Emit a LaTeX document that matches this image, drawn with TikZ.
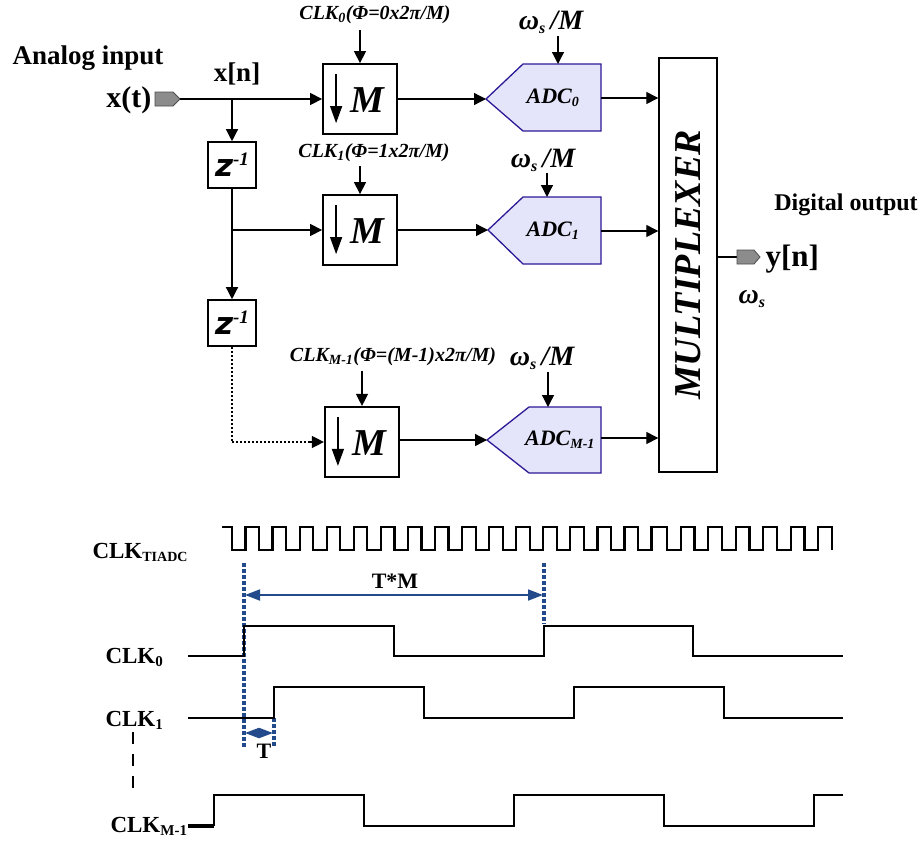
\documentclass[tikz,border=0pt]{standalone}
\usepackage{fontspec}
\setmainfont{Liberation Serif}
\newfontfamily\zsans{DejaVu Sans}
\usetikzlibrary{arrows.meta,calc}
\definecolor{adcfill}{RGB}{228,228,250}
\definecolor{adcline}{RGB}{45,25,150}
\definecolor{dimblue}{RGB}{35,75,140}
\definecolor{portgray}{RGB}{140,140,140}
\begin{document}
\begin{tikzpicture}[x=1pt,y=-1pt,
  conn/.style={line width=1.3pt,-{Triangle[length=12pt,width=12pt]}},
  dotconn/.style={line width=1.3pt,dash pattern=on 2pt off 2pt},
  mbox/.style={draw,line width=1.8pt,minimum width=74pt,minimum height=70pt,inner sep=0pt},
  zbox/.style={draw,line width=1.6pt,minimum width=48pt,minimum height=46pt,inner sep=0pt},
  adcshape/.style={draw=adcline,fill=adcfill,line width=1.3pt},
  portshape/.style={draw=black!70,fill=portgray,line width=0.8pt},
  clklab/.style={font=\fontsize{20}{22}\selectfont\bfseries\itshape},
  adclab/.style={font=\fontsize{22}{26}\selectfont\bfseries\itshape},
  wlab/.style={font=\fontsize{28}{30}\selectfont\bfseries\itshape},
  mtxt/.style={font=\fontsize{38}{40}\selectfont\bfseries\itshape},
  wave/.style={line width=2.2pt},
  dimline/.style={draw=dimblue,line width=1.8pt},
  dimdot/.style={draw=dimblue,line width=3.2pt,dash pattern=on 3.5pt off 2.5pt},
  wavelab/.style={font=\fontsize{23}{26}\selectfont\bfseries}
]
\useasboundingbox (0,0) rectangle (920,841);

% ---------- top block diagram ----------
\node[font=\fontsize{27}{30}\selectfont\bfseries,anchor=west] (analog) at (9,58) {Analog input};
\node[font=\fontsize{30}{32}\selectfont\bfseries,anchor=east] (xt) at (155,100) {x(t)};
\coordinate (pin) at (155,99);
\draw[portshape] (pin) ++(0,-7) -- ++(18,0) -- ++(7,7) -- ++(-7,7) -- ++(-18,0) -- cycle;
\coordinate (pinout) at (180,99);
\node[font=\fontsize{27}{30}\selectfont\bfseries] (xn) at (237,74) {x[n]};

% M boxes
\node[mbox] (m0) at (360,99) {};
\node[mbox] (m1) at (360,230) {};
\node[mbox,line width=2.2pt] (m2) at (362,442) {};
\foreach \b in {m0,m1,m2}{
  \draw[line width=1.3pt,-{Triangle[length=17pt,width=12pt]}] ($(\b.north west)+(14,11)$) -- ($(\b.north west)+(14,60)$);
  \node[mtxt] (\b-txt) at ($(\b.center)+(7,1)$) {M};
}

% z^-1 boxes
\node[zbox] (z1) at (232,165) {{\zsans\bfseries\itshape\fontsize{31}{31}\selectfont z}\raisebox{11pt}{\fontsize{19}{19}\selectfont\bfseries\itshape -1}};
\node[zbox] (z2) at (232,323) {{\zsans\bfseries\itshape\fontsize{31}{31}\selectfont z}\raisebox{11pt}{\fontsize{19}{19}\selectfont\bfseries\itshape -1}};

\coordinate (b0) at (z1.north |- pinout);
\coordinate (b1) at (z1.south |- m1.west);
\coordinate (b2) at (z2.south |- m2.west);

\draw[line width=1.3pt] (pinout) -- (b0);
\draw[conn] (b0) -- (m0.west);
\draw[conn] (b0) -- (z1.north);
\draw[line width=1.3pt] (z1.south) -- (b1);
\draw[conn] (b1) -- (m1.west);
\draw[conn] (b1) -- (z2.north);
\draw[dotconn] (z2.south) -- (b2);
\draw[dotconn] (b2) -- ($(m2.west)+(-12,0)$);
\draw[conn] ($(m2.west)+(-14,0)$) -- (m2.west);

% clock labels
\node[clklab] (c0) at (375,15) {CLK\textsubscript{0}(Φ=0x2π/M)};
\node[clklab] (c1) at (374,153) {CLK\textsubscript{1}(Φ=1x2π/M)};
\node[clklab] (c2) at (393,357) {CLK\textsubscript{M-1}(Φ=(M-1)x2π/M)};
\coordinate (c0a) at (m0.north |- 0,30);
\coordinate (c1a) at (m1.north |- 0,166);
\coordinate (c2a) at (m2.north |- 0,371);
\draw[conn] (c0a) -- (m0.north);
\draw[conn] (c1a) -- (m1.north);
\draw[conn] (c2a) -- (m2.north);

% ADCs
\coordinate (a0nw) at (523,64);  \coordinate (a0se) at (601,131);
\coordinate (a1nw) at (523,197); \coordinate (a1se) at (601,264);
\coordinate (a2nw) at (529,407); \coordinate (a2se) at (601,473);
\coordinate (a0tip) at (486,99);
\coordinate (a1tip) at (488,230);
\coordinate (a2tip) at (487,440);
\draw[adcshape] (a0nw) -- (a0nw -| a0se) -- (a0se) -- (a0se -| a0nw) -- (a0tip) -- cycle;
\draw[adcshape] (a1nw) -- (a1nw -| a1se) -- (a1se) -- (a1se -| a1nw) -- (a1tip) -- cycle;
\draw[adcshape] (a2nw) -- (a2nw -| a2se) -- (a2se) -- (a2se -| a2nw) -- (a2tip) -- cycle;
\node[adclab] (adc0) at (553,98) {ADC\textsubscript{\fontsize{14}{14}\selectfont 0}};
\node[adclab] (adc1) at (553,231) {ADC\textsubscript{\fontsize{14}{14}\selectfont 1}};
\node[adclab] (adc2) at (560,440) {ADC\textsubscript{\fontsize{14}{14}\selectfont M-1}};
\coordinate (a0out) at (601,98);
\coordinate (a1out) at (601,231);
\coordinate (a2out) at (601,438);

\draw[conn] (m0.east) -- (a0tip);
\draw[conn] (m1.east |- a1tip) -- (a1tip);
\draw[conn] (m2.east |- a2tip) -- (a2tip);

% omega_s/M
\node[wlab] (w0) at (551,22) {ω\textsubscript{\fontsize{16}{16}\selectfont s}\,/M};
\node[wlab] (w1) at (543,160) {ω\textsubscript{\fontsize{16}{16}\selectfont s}\,/M};
\node[wlab] (w2) at (542,358) {ω\textsubscript{\fontsize{16}{16}\selectfont s}\,/M};
\coordinate (w0a) at (558,36);
\coordinate (w1a) at (547,173);
\coordinate (w2a) at (548,372);
\draw[conn] (w0a) -- (w0a |- a0nw);
\draw[conn] (w1a) -- (w1a |- a1nw);
\draw[conn] (w2a) -- (w2a |- a2nw);

% multiplexer
\node[draw,line width=1.4pt,minimum width=58pt,minimum height=414pt,inner sep=0pt] (mux) at (688,265) {};
\node[font=\fontsize{38}{40}\selectfont\bfseries\itshape,rotate=90] (muxt) at (mux.center) {MULTIPLEXER};
\draw[conn] (a0out) -- (a0out -| mux.west);
\draw[conn] (a1out) -- (a1out -| mux.west);
\draw[conn] (a2out) -- (a2out -| mux.west);

% output
\coordinate (pout) at (737,257);
\draw[line width=1.3pt] (mux.east |- pout) -- (pout);
\draw[portshape] (pout) ++(0,-7) -- ++(17,0) -- ++(6,7) -- ++(-6,7) -- ++(-17,0) -- cycle;
\node[font=\fontsize{31}{33}\selectfont\bfseries,anchor=west] (yn) at (762,259) {y[n]};
\node[font=\fontsize{24}{27}\selectfont\bfseries] (dout) at (846,205) {Digital output};
\node[wlab] (ws) at (752,299) {ω\textsubscript{\fontsize{16}{16}\selectfont s}};

% ---------- timing diagram ----------
% dotted blue guides
\draw[dimdot] (244,563) -- (244,747);
\draw[dimdot] (544,563) -- (544,624);
\draw[dimdot] (274,718) -- (274,747);
% dimension arrows
\draw[dimline,{Triangle[length=15pt,width=11pt]}-{Triangle[length=15pt,width=11pt]}] (245,595) -- (543,595);
\node[font=\fontsize{22}{24}\selectfont\bfseries] (tm) at (395,581) {T*M};
\draw[dimline,{Triangle[length=14pt,width=10pt]}-{Triangle[length=14pt,width=10pt]}] (245,733) -- (273,733);
\node[font=\fontsize{22}{24}\selectfont\bfseries] (tt) at (264,751) {T};

% TIADC clock
\draw[wave,line join=miter] (222,527) -- (232,527)
  \foreach \k in {0,...,15}{ -- ({232+27.07*\k},550) -- ({245.5+27.07*\k},550) -- ({245.5+27.07*\k},527) -- ({259.07+27.07*\k},527) }
  -- (667,527)
  \foreach \j in {0,...,5}{ -- ({667+27.5*\j},550) -- ({680.75+27.5*\j},550) -- ({680.75+27.5*\j},527) -- ({694.5+27.5*\j},527) }
  -- (832,550);
% CLK0
\draw[wave] (188,656) -- (244,656) -- (244,626) -- (394,626) -- (394,656) -- (544,656) -- (544,626) -- (693,626) -- (693,656) -- (843,656);
% CLK1
\draw[wave] (188,718) -- (274,718) -- (274,687) -- (424,687) -- (424,718) -- (574,718) -- (574,687) -- (724,687) -- (724,718) -- (843,718);
% CLK M-1
\draw[line width=4.5pt] (188,826) -- (214,826);
\draw[wave] (214,826) -- (214,795) -- (364,795) -- (364,826) -- (514,826) -- (514,795) -- (664,795) -- (664,826) -- (814,826) -- (814,795) -- (843,795);
% vertical dashes
\draw[line width=2.6pt,dash pattern=on 12pt off 10pt] (133,732) -- (133,797);

% labels
\node[wavelab,anchor=base west] (lt) at (89,558) {CLK\textsubscript{\fontsize{14}{14}\selectfont TIADC}};
\node[wavelab,anchor=base west] (l0) at (102,663) {CLK\textsubscript{\fontsize{15}{15}\selectfont 0}};
\node[wavelab,anchor=base west] (l1) at (102,726) {CLK\textsubscript{\fontsize{15}{15}\selectfont 1}};
\node[wavelab,anchor=base west] (l2) at (107,832) {CLK\textsubscript{\fontsize{15}{15}\selectfont M-1}};
\end{tikzpicture}
\end{document}
